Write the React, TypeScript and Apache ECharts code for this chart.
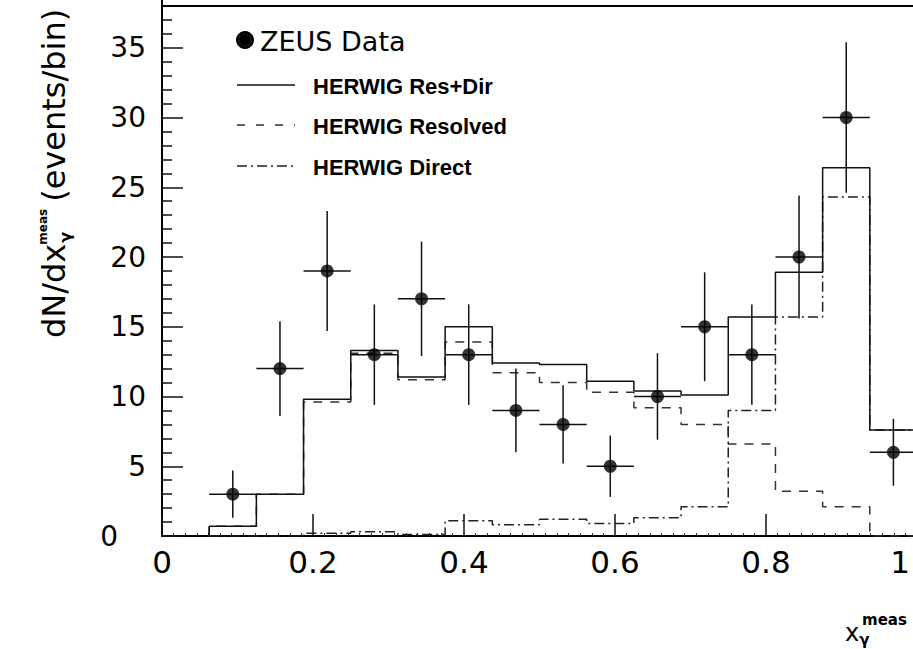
import React, { useEffect, useRef } from "react";
import * as echarts from "echarts";

// ---- data ----
const binEdges = [0.0625, 0.125, 0.1875, 0.25, 0.3125, 0.375, 0.4375, 0.5, 0.5625, 0.625, 0.6875, 0.75, 0.8125, 0.875, 0.9375, 1.0];
const zeusData = [3, 12, 19, 13, 17, 13, 9, 8, 5, 10, 15, 13, 20, 30, 6];
const zeusErr = [1.7, 3.4, 4.3, 3.6, 4.1, 3.6, 3.0, 2.8, 2.2, 3.1, 3.9, 3.6, 4.4, 5.4, 2.4];
const herwigResDir = [0.7, 3.0, 9.8, 13.3, 11.4, 15.0, 12.4, 12.3, 11.1, 10.4, 10.1, 15.7, 18.9, 26.4, 7.6];
const herwigResolved = [0.7, 3.0, 9.6, 13.1, 11.2, 13.9, 11.7, 11.0, 10.3, 9.2, 8.0, 6.6, 3.2, 2.1, 0];
const herwigDirect = [0, 0, 0.2, 0.3, 0.1, 1.1, 0.8, 1.2, 0.9, 1.3, 2.1, 9.0, 15.7, 24.3, 7.6];
const xTickLabels = ["0", "0.2", "0.4", "0.6", "0.8", "1"];
const yTickLabels = ["0", "5", "10", "15", "20", "25", "30", "35"];
const frameTop = 38;
const legendLabels = ["ZEUS Data", "HERWIG Res+Dir", "HERWIG Resolved", "HERWIG Direct"];

const FONT = '"DejaVu Sans", sans-serif';
const BOLD_FONT = '"Liberation Sans", Arial, sans-serif';

function stepPoints(vals: number[]) {
  const pts: number[][] = [[binEdges[0], 0]];
  vals.forEach((v, i) => {
    pts.push([binEdges[i], v]);
    pts.push([binEdges[i + 1], v]);
  });
  pts.push([binEdges[binEdges.length - 1], 0]);
  return pts;
}

let measureCtx: CanvasRenderingContext2D | null = null;
function tw(text: string, font: string) {
  if (!measureCtx) measureCtx = document.createElement("canvas").getContext("2d");
  measureCtx!.font = font;
  return measureCtx!.measureText(text).width;
}

export default function App() {
  const ref = useRef<HTMLDivElement>(null);

  useEffect(() => {
    const chart = echarts.init(ref.current!, null, { renderer: "svg" });
    const centers = zeusData.map((_, i) => (binEdges[i] + binEdges[i + 1]) / 2);

    // y title pieces
    const mainFont = `32px ${FONT}`;
    const wA = tw("dN/dx", mainFont);
    const measFontY = `bold 12px ${FONT}`;
    const wMeasY = tw("meas", measFontY);
    const bStart = wA + wMeasY + 6;

    // x title pieces
    const xFont = `24px ${FONT}`;
    const wx = tw("x", xFont);
    const xTitleX = 845;

    const option: any = {
      animation: false,
      backgroundColor: "#ffffff",
      grid: {
        left: 162,
        right: -4,
        top: -22,
        bottom: 113,
        show: false,
        outerBoundsMode: "none",
        containLabel: false,
      },
      xAxis: {
        type: "value",
        min: 0,
        max: 1,
        interval: 0.2,
        axisLine: { show: true, onZero: false, lineStyle: { color: "#000", width: 2 } },
        axisTick: { show: true, inside: true, length: 22, lineStyle: { color: "#111", width: 1.5 } },
        minorTick: { show: true, splitNumber: 13, length: 3, lineStyle: { color: "#333", width: 1 } },
        splitLine: { show: false },
        axisLabel: {
          color: "#000",
          fontFamily: FONT,
          fontSize: 31,
          margin: 10,
          showMaxLabel: true,
          formatter: (v: number) => {
            const idx = Math.round(v / 0.2);
            if (idx === xTickLabels.length - 1) return "{r|" + xTickLabels[idx] + "}";
            return xTickLabels[idx] ?? "";
          },
          rich: {
            r: { fontFamily: FONT, fontSize: 31, color: "#000", padding: [0, 34, 0, 0] },
          },
        },
      },
      yAxis: {
        type: "value",
        min: 0,
        max: 40,
        interval: 5,
        axisLine: { show: true, onZero: false, lineStyle: { color: "#000", width: 2 } },
        axisTick: { show: true, inside: true, length: 21, lineStyle: { color: "#111", width: 1.5 } },
        minorTick: { show: true, splitNumber: 5, length: 10, lineStyle: { color: "#111", width: 1.5 } },
        splitLine: { show: false },
        axisLabel: {
          color: "#000",
          fontFamily: FONT,
          fontSize: 28,
          margin: 16,
          formatter: (v: number) => {
            const idx = Math.round(v / 5);
            if (idx >= yTickLabels.length) return "";
            if (idx === 0) return "{z|" + yTickLabels[0] + "}";
            return yTickLabels[idx];
          },
          rich: {
            z: { fontFamily: FONT, fontSize: 28, color: "#000", padding: [0, 28, 0, 0] },
          },
        },
      },
      series: [
        {
          name: legendLabels[2],
          type: "line",
          data: stepPoints(herwigResolved),
          symbol: "none",
          lineStyle: { color: "#333", width: 1.5, type: [9, 8] },
          z: 2,
        },
        {
          name: legendLabels[3],
          type: "line",
          data: stepPoints(herwigDirect),
          symbol: "none",
          lineStyle: { color: "#222", width: 1.5, type: [10, 4, 2, 4] },
          z: 2,
        },
        {
          name: legendLabels[1],
          type: "line",
          data: stepPoints(herwigResDir),
          symbol: "none",
          lineStyle: { color: "#111", width: 1.5, type: "solid" },
          z: 3,
          markLine: {
            silent: true,
            symbol: "none",
            label: { show: false },
            lineStyle: { color: "#000", width: 2, type: "solid" },
            data: [{ yAxis: frameTop }],
          },
        },
        {
          name: legendLabels[0] + " errors",
          type: "custom",
          data: zeusData.map((v, i) => [centers[i], v, zeusErr[i], binEdges[i], binEdges[i + 1]]),
          encode: { x: 0, y: 1 },
          renderItem: (params: any, api: any) => {
            const x = api.value(0);
            const y = api.value(1);
            const e = api.value(2);
            const lo = api.value(3);
            const hi = api.value(4);
            const top = api.coord([x, y + e]);
            const bot = api.coord([x, y - e]);
            const l = api.coord([lo, y]);
            const r = api.coord([hi, y]);
            return {
              type: "group",
              children: [
                { type: "line", shape: { x1: top[0], y1: top[1], x2: bot[0], y2: bot[1] }, style: { stroke: "#111", lineWidth: 1.5 } },
                { type: "line", shape: { x1: l[0], y1: l[1], x2: r[0], y2: r[1] }, style: { stroke: "#111", lineWidth: 1.5 } },
              ],
            };
          },
          z: 4,
        },
        {
          name: legendLabels[0],
          type: "scatter",
          data: zeusData.map((v, i) => [centers[i], v]),
          symbol: "circle",
          symbolSize: 13,
          itemStyle: { color: "#000" },
          z: 5,
        },
      ],
      graphic: [
        // legend
        { type: "circle", shape: { cx: 245, cy: 40, r: 9 }, style: { fill: "#000" } },
        { type: "circle", shape: { cx: 245, cy: 40, r: 6 }, style: { fill: "none", stroke: "#666", lineWidth: 0.8, lineDash: [1, 1.5] } },
        { type: "text", x: 260, y: 41, style: { text: legendLabels[0], font: `27px ${FONT}`, fill: "#000", align: "left", verticalAlign: "middle" } },
        { type: "line", shape: { x1: 237, y1: 85, x2: 295, y2: 85 }, style: { stroke: "#111", lineWidth: 1.5 } },
        { type: "text", x: 313, y: 86, style: { text: legendLabels[1], font: `bold 22px ${BOLD_FONT}`, fill: "#000", align: "left", verticalAlign: "middle" } },
        { type: "line", shape: { x1: 237, y1: 125, x2: 295, y2: 125 }, style: { stroke: "#333", lineWidth: 1.5, lineDash: [8, 11] } },
        { type: "text", x: 313, y: 126, style: { text: legendLabels[2], font: `bold 22px ${BOLD_FONT}`, fill: "#000", align: "left", verticalAlign: "middle" } },
        { type: "line", shape: { x1: 237, y1: 166, x2: 295, y2: 166 }, style: { stroke: "#222", lineWidth: 1.5, lineDash: [10, 4, 2, 4] } },
        { type: "text", x: 313, y: 167, style: { text: legendLabels[3], font: `bold 22px ${BOLD_FONT}`, fill: "#000", align: "left", verticalAlign: "middle" } },
        // y axis title
        {
          type: "group",
          x: 54,
          y: 338,
          rotation: Math.PI / 2,
          children: [
            { type: "text", x: 0, y: 0, style: { text: "dN/dx", font: mainFont, fill: "#000", align: "left", verticalAlign: "middle" } },
            { type: "text", x: wA + 1, y: 11, style: { text: "γ", font: `bold 16px ${FONT}`, fill: "#000", align: "left", verticalAlign: "middle" } },
            { type: "text", x: wA - 1, y: -11, style: { text: "meas", font: measFontY, fill: "#000", align: "left", verticalAlign: "middle" } },
            { type: "text", x: bStart, y: 0, style: { text: "(events/bin)", font: mainFont, fill: "#000", align: "left", verticalAlign: "middle" } },
          ],
        },
        // x axis title
        { type: "text", x: xTitleX, y: 633, style: { text: "x", font: xFont, fill: "#000", align: "left", verticalAlign: "middle" } },
        { type: "text", x: xTitleX + wx, y: 640, style: { text: "γ", font: `bold 15px ${FONT}`, fill: "#000", align: "left", verticalAlign: "middle" } },
        { type: "text", x: 862, y: 620, style: { text: "meas", font: `bold 15px ${FONT}`, fill: "#000", align: "left", verticalAlign: "middle" } },
      ],
    };

    chart.setOption(option);
    return () => chart.dispose();
  }, []);

  return <div ref={ref} style={{ position: "absolute", left: 0, top: 0, width: 913, height: 649 }} />;
}
